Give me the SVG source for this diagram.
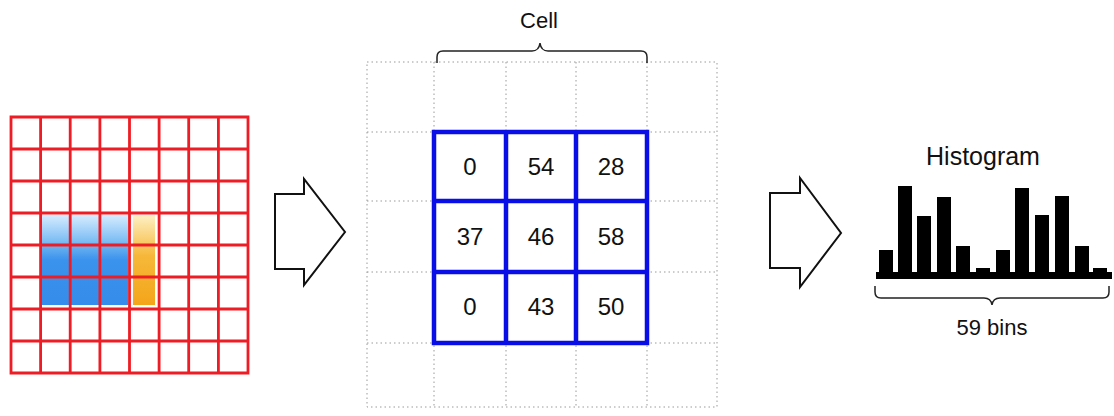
<svg xmlns="http://www.w3.org/2000/svg" width="1114" height="416" viewBox="0 0 1114 416">
  <defs>
    <linearGradient id="gBlue" x1="0" y1="0" x2="0" y2="1">
      <stop offset="0" stop-color="#d6ecff"/>
      <stop offset="0.28" stop-color="#7fbff4"/>
      <stop offset="0.5" stop-color="#3a93ec"/>
      <stop offset="1" stop-color="#368cea"/>
    </linearGradient>
    <linearGradient id="gOrange" x1="0" y1="0" x2="0" y2="1">
      <stop offset="0" stop-color="#fdf0c4"/>
      <stop offset="0.45" stop-color="#f6b83a"/>
      <stop offset="1" stop-color="#f4a51a"/>
    </linearGradient>
    <style>
      .red{fill:none;stroke:#ee1c24;stroke-width:2.8}
      .dot{fill:none;stroke:#9a9a9a;stroke-width:1;stroke-dasharray:1.5 3}
      .blue{fill:none;stroke:#0a0ee6;stroke-width:4.5}
      .arrow{fill:#fff;stroke:#111;stroke-width:2;stroke-linejoin:miter}
      .brace{fill:none;stroke:#222;stroke-width:1.5}
      .t{font-family:"Liberation Sans",Arial,sans-serif;fill:#111;text-anchor:middle}
      .num{font-size:24px}
      .bar{fill:#000}
    </style>
  </defs>

  <g id="image-grid">
    <rect x="42" y="215" width="86" height="90" fill="url(#gBlue)"/>
    <rect x="133" y="215" width="22" height="90" fill="url(#gOrange)"/>
    <path class="red" d="M11,117H248V373H11Z M40.6,117V373 M70.2,117V373 M99.9,117V373 M129.5,117V373 M159.1,117V373 M188.7,117V373 M218.4,117V373 M11,149H248 M11,181H248 M11,213H248 M11,245H248 M11,277H248 M11,309H248 M11,341H248"/>
  </g>

  <g id="arrow-1">
    <polygon class="arrow" points="275,194 304,194 304,179 345,232 304,285 304,269 275,269"/>
  </g>

  <g id="cell-grid">
    <path class="dot" d="M367,62H717V407H367Z M434,62V407 M506,62V407 M576,62V407 M647,62V407 M367,132H717 M367,201H717 M367,272H717 M367,343H717"/>
    <path class="blue" d="M434,132H647V343H434Z M506,132V343 M576,132V343 M434,201H647 M434,272H647"/>
    <text class="t num" x="470" y="175">0</text>
    <text class="t num" x="541" y="175">54</text>
    <text class="t num" x="611" y="175">28</text>
    <text class="t num" x="470" y="245">37</text>
    <text class="t num" x="541" y="245">46</text>
    <text class="t num" x="611" y="245">58</text>
    <text class="t num" x="470" y="315">0</text>
    <text class="t num" x="541" y="315">43</text>
    <text class="t num" x="611" y="315">50</text>
  </g>

  <g id="cell-label">
    <path class="brace" d="M437,63 V57 Q437,51 443,51 H532 Q539,51 540,43 Q541,51 548,51 H641 Q647,51 647,57 V63"/>
    <text class="t" x="539" y="28" font-size="22">Cell</text>
  </g>

  <g id="arrow-2">
    <polygon class="arrow" points="770,193 800,193 800,178 841,233 800,287 800,268 770,268"/>
  </g>

  <g id="histogram">
    <text class="t" x="983" y="165" font-size="25">Histogram</text>
    <rect class="bar" x="876" y="272" width="236" height="7"/>
    <rect class="bar" x="879" y="250" width="14" height="25"/>
    <rect class="bar" x="898" y="186" width="14" height="89"/>
    <rect class="bar" x="917" y="216" width="14" height="59"/>
    <rect class="bar" x="937" y="197" width="14" height="78"/>
    <rect class="bar" x="956" y="246" width="14" height="29"/>
    <rect class="bar" x="976" y="268" width="14" height="7"/>
    <rect class="bar" x="996" y="250" width="14" height="25"/>
    <rect class="bar" x="1015" y="188" width="14" height="87"/>
    <rect class="bar" x="1035" y="215" width="14" height="60"/>
    <rect class="bar" x="1055" y="196" width="14" height="79"/>
    <rect class="bar" x="1075" y="246" width="14" height="29"/>
    <rect class="bar" x="1093" y="268" width="14" height="7"/>
    <path class="brace" d="M875,286 V292 Q875,298 881,298 H984 Q991,298 992,305 Q993,298 1000,298 H1103 Q1109,298 1109,292 V286"/>
    <text class="t" x="992" y="335" font-size="22">59 bins</text>
  </g>
</svg>
